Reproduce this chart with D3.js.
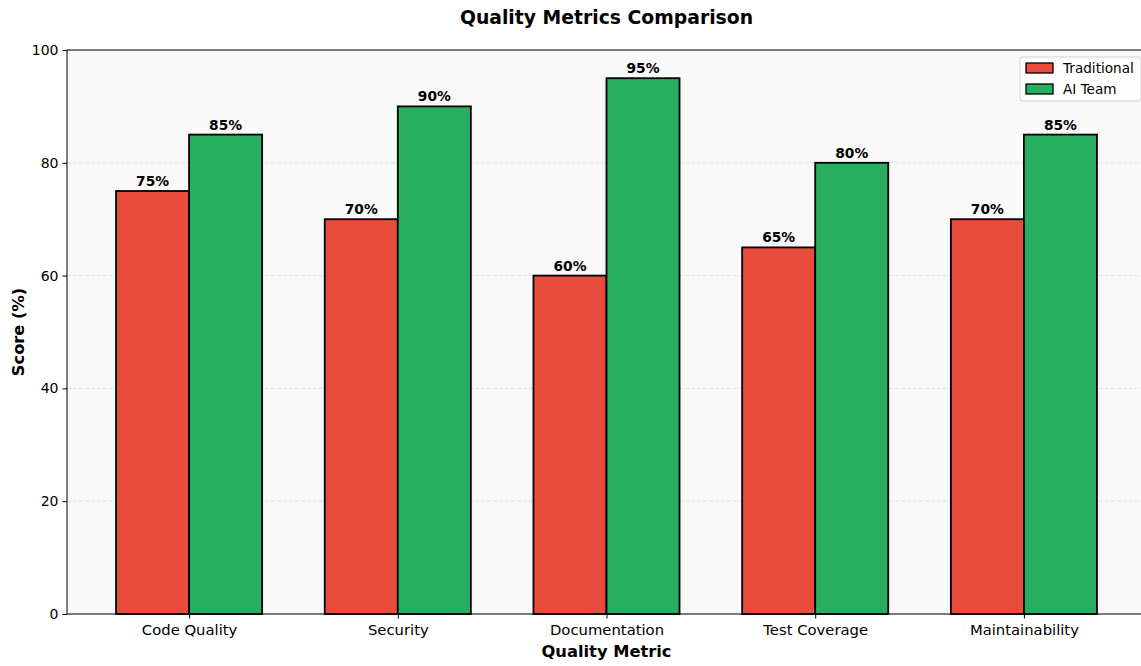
<!DOCTYPE html>
<html>
<head>
<meta charset="utf-8">
<script src="https://cdn.jsdelivr.net/npm/d3@7"></script>
<style>
  html, body { margin: 0; padding: 0; background: #fff; }
  svg { display: block; font-family: "DejaVu Sans", sans-serif; }
</style>
</head>
<body>
<svg id="chart" width="1141" height="666"></svg>
<script>
// Quality scores per metric for each team
const categories = ["Code Quality", "Security", "Documentation", "Test Coverage", "Maintainability"];
const traditional = [75, 70, 60, 65, 70];
const aiTeam = [85, 90, 95, 80, 85];
const seriesNames = ["Traditional", "AI Team"];
const yTicks = [0, 20, 40, 60, 80, 100];

const colors = { "Traditional": "#e74c3c", "AI Team": "#27ae60" };

const svg = d3.select("#chart");
const margin = { left: 67, top: 50, right: -5, bottom: 52 };
const W = 1141, H = 666;
const x0 = margin.left, x1 = W - margin.right;
const yTop = margin.top, yBot = H - margin.bottom;

// Numeric x-scale: categories at 0..n-1, bars 0.35 wide, 5% margins like matplotlib
const barW = 0.35;
const dataMin = -barW, dataMax = categories.length - 1 + barW;
const pad = (dataMax - dataMin) * 0.05;
const x = d3.scaleLinear().domain([dataMin - pad, dataMax + pad]).range([x0, x1]);
const y = d3.scaleLinear().domain([0, 100]).range([yBot, yTop]);

// Axes background
svg.append("rect").attr("x", x0).attr("y", yTop)
  .attr("width", x1 - x0).attr("height", yBot - yTop).attr("fill", "#f9f9f9");

// Horizontal dashed grid
svg.append("g").selectAll("line").data(yTicks).join("line")
  .attr("x1", x0).attr("x2", x1)
  .attr("y1", d => y(d)).attr("y2", d => y(d))
  .attr("stroke", "#dcdcdc").attr("stroke-width", 0.8)
  .attr("stroke-dasharray", "4,2");

// Bars
const rows = [];
categories.forEach((c, i) => {
  rows.push({ name: "Traditional", i, v: traditional[i], off: -barW / 2 });
  rows.push({ name: "AI Team", i, v: aiTeam[i], off: barW / 2 });
});

svg.append("g").selectAll("rect").data(rows).join("rect")
  .attr("x", d => x(d.i + d.off - barW / 2))
  .attr("width", d => x(barW) - x(0))
  .attr("y", d => y(d.v))
  .attr("height", d => y(0) - y(d.v))
  .attr("fill", d => colors[d.name])
  .attr("stroke", "#000").attr("stroke-width", 1.8);

// Value labels
svg.append("g").selectAll("text").data(rows).join("text")
  .attr("x", d => x(d.i + d.off))
  .attr("y", d => y(d.v) - 5)
  .attr("text-anchor", "middle")
  .attr("font-size", 13.8).attr("font-weight", "bold")
  .attr("fill", "#000")
  .text(d => d.v + "%");

// Spines
svg.append("line").attr("x1", x0).attr("x2", x0).attr("y1", yTop).attr("y2", yBot)
  .attr("stroke", "#000").attr("stroke-width", 1);
svg.append("line").attr("x1", x0).attr("x2", x1).attr("y1", yTop).attr("y2", yTop)
  .attr("stroke", "#000").attr("stroke-width", 1);
svg.append("line").attr("x1", x0).attr("x2", x1).attr("y1", yBot).attr("y2", yBot)
  .attr("stroke", "#000").attr("stroke-width", 1);

// Y axis ticks
const yAxis = d3.axisLeft(y).tickValues(yTicks).tickSize(4.5).tickPadding(4);
const gy = svg.append("g").attr("transform", `translate(${x0},0)`).call(yAxis);
gy.select(".domain").remove();
gy.selectAll("text").attr("font-size", 14).attr("fill", "#000").attr("font-family", "DejaVu Sans");

// X axis ticks
const xAxis = d3.axisBottom(x).tickValues(categories.map((c, i) => i))
  .tickFormat(i => categories[i]).tickSize(4.5).tickPadding(6);
const gx = svg.append("g").attr("transform", `translate(0,${yBot})`).call(xAxis);
gx.select(".domain").remove();
gx.selectAll("text").attr("font-size", 14.8).attr("fill", "#000").attr("font-family", "DejaVu Sans");

// Axis titles
svg.append("text").attr("x", (x0 + x1) / 2).attr("y", 657)
  .attr("text-anchor", "middle").attr("font-size", 16.3).attr("font-weight", "bold")
  .text("Quality Metric");
svg.append("text")
  .attr("transform", `translate(24,${(yTop + yBot) / 2}) rotate(-90)`)
  .attr("text-anchor", "middle").attr("font-size", 16.3).attr("font-weight", "bold")
  .text("Score (%)");

// Title
svg.append("text").attr("x", (x0 + x1) / 2).attr("y", 24)
  .attr("text-anchor", "middle").attr("font-size", 18.8).attr("font-weight", "bold")
  .text("Quality Metrics Comparison");

// Legend
const lg = svg.append("g").attr("transform", "translate(1020,57)");
lg.append("rect").attr("width", 121).attr("height", 44).attr("rx", 3)
  .attr("fill", "#fff").attr("fill-opacity", 0.8).attr("stroke", "#d0d0d0");
seriesNames.forEach((n, k) => {
  const gy2 = 11 + k * 21;
  lg.append("rect").attr("x", 6).attr("y", gy2 - 5).attr("width", 27).attr("height", 10)
    .attr("fill", colors[n]).attr("stroke", "#000").attr("stroke-width", 1.3);
  lg.append("text").attr("x", 43).attr("y", gy2 + 5).attr("font-size", 13.6).text(n);
});
</script>
</body>
</html>
